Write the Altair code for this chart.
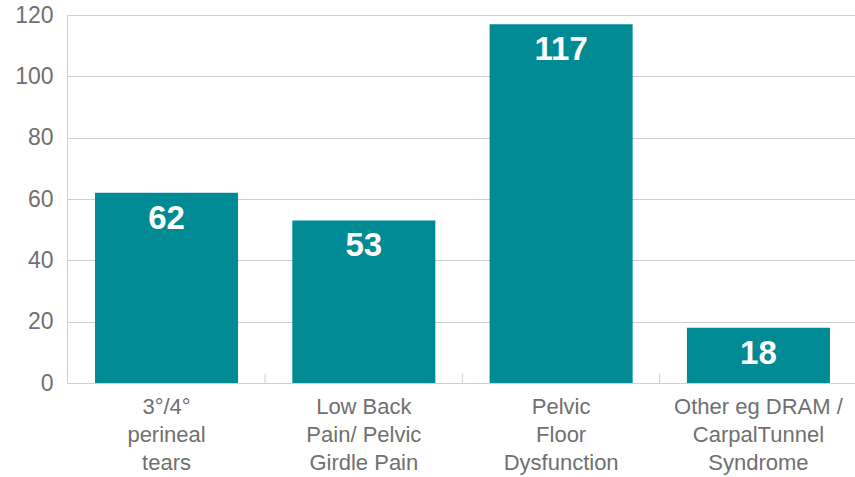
import altair as alt
import pandas as pd

# Categories (lines separated by "|") and counts
categories = [
    "3°/4°|perineal|tears",
    "Low Back|Pain/ Pelvic|Girdle Pain",
    "Pelvic|Floor|Dysfunction",
    "Other eg DRAM /|CarpalTunnel|Syndrome",
]
counts = [62, 53, 117, 18]
y_ticks = [0, 20, 40, 60, 80, 100, 120]

df = pd.DataFrame({"category": categories, "count": counts})

TEAL = "#008A93"
GREY_TEXT = "#707070"
GRID = "#cfcfcf"
FONT = "Liberation Sans"

x_scale = alt.Scale(paddingInner=0.275, paddingOuter=0.1345, align=0.528)

x_enc = alt.X(
    "category:N",
    sort=categories,
    scale=x_scale,
    axis=alt.Axis(
        title=None,
        labelAngle=0,
        labelExpr="split(datum.value, '|')",
        labelFont=FONT,
        labelFontSize=22,
        labelColor=GREY_TEXT,
        labelLineHeight=28,
        labelPadding=13,
        ticks=False,
        domainColor=GRID,
        labelLimit=250,
    ),
)

y_enc = alt.Y(
    "count:Q",
    scale=alt.Scale(domain=[0, 120], nice=False),
    axis=alt.Axis(
        title=None,
        values=y_ticks,
        labelFont=FONT,
        labelFontSize=23,
        labelColor=GREY_TEXT,
        labelPadding=14,
        ticks=False,
        grid=True,
        gridColor=GRID,
        domainColor=GRID,
    ),
)

base = alt.Chart(df)

bars = base.mark_bar(color=TEAL).encode(x=x_enc, y=y_enc)

labels = base.mark_text(
    color="white",
    font=FONT,
    fontSize=33,
    fontWeight="bold",
    baseline="middle",
    dy=26,
).encode(
    x=alt.X("category:N", sort=categories, scale=x_scale),
    y=alt.Y("count:Q"),
    text=alt.Text("count:Q"),
)

# Short inward ticks midway between neighbouring bars
ticks = base.mark_rule(color=GRID, strokeWidth=1, xOffset=27).encode(
    x=alt.X("category:N", sort=categories, scale=x_scale, bandPosition=1),
    y=alt.value(359),
    y2=alt.value(368),
)

chart = (
    alt.layer(bars, ticks, labels)
    .properties(
        width=788,
        height=368,
        autosize=alt.AutoSizeParams(type="none"),
        padding={"left": 67, "top": 15, "right": 0, "bottom": 94},
        background="white",
    )
    .configure_view(stroke=None)
)

chart.save("out.html", embed_options={"renderer": "svg", "actions": False})
